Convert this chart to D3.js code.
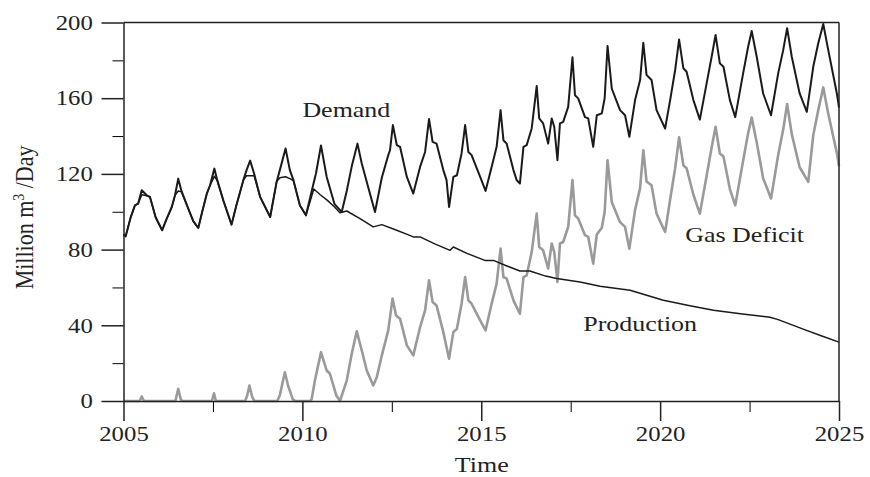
<!DOCTYPE html>
<html>
<head>
<meta charset="utf-8">
<script src="https://cdn.jsdelivr.net/npm/d3@7"></script>
<style>
  body { margin: 0; background: #fff; }
  text { font-family: "Liberation Serif", "Times New Roman", serif; fill: #222; }
</style>
</head>
<body>
<div id="chart"></div>
<script>
// values: [year, million m3/day]
var demand = [
  [2005.00,88],[2005.06,87],[2005.20,97],[2005.32,103.4],[2005.41,104.3],[2005.51,111.4],[2005.65,108.7],[2005.74,107.8],[2005.90,97],[2006.08,90.2],
  [2006.20,96],[2006.35,102.5],[2006.44,108.7],[2006.53,117.5],[2006.62,111],[2006.81,101.7],[2006.95,95],[2007.09,91.4],
  [2007.20,100],[2007.33,109.6],[2007.42,114],[2007.54,122.8],[2007.62,116.7],[2007.79,106],[2008.02,93.2],
  [2008.15,103],[2008.35,116.7],[2008.44,122],[2008.54,127],[2008.65,120.2],[2008.82,107.8],[2009.10,97.2],
  [2009.28,115.8],[2009.37,122],[2009.53,133.4],[2009.65,122],[2009.75,116.7],[2009.93,103.4],[2010.10,98.1],
  [2010.30,114],[2010.38,120.2],[2010.52,135],[2010.68,118.4],[2010.90,104],[2011.10,99.9],
  [2011.24,111],[2011.38,124],[2011.54,136],[2011.66,125.5],[2011.84,113],[2012.03,99.9],
  [2012.22,118],[2012.40,129.9],[2012.45,132.5],[2012.53,145.8],[2012.64,135.2],[2012.73,134.3],[2012.92,118.4],[2013.10,109.6],
  [2013.29,123.7],[2013.43,131.6],[2013.54,149],[2013.64,136.9],[2013.75,136],[2013.94,122],[2014.03,116.7],[2014.10,102.5],
  [2014.22,118.4],[2014.32,119.3],[2014.45,130.8],[2014.55,145.8],[2014.64,131.6],[2014.73,129.9],[2014.97,118.4],[2015.12,111],
  [2015.29,123.7],[2015.43,134.3],[2015.54,153.7],[2015.62,137.8],[2015.71,136],[2015.90,122],[2015.99,116.7],[2016.08,114.9],
  [2016.18,134.3],[2016.27,135.2],[2016.41,144],[2016.55,166.4],[2016.62,149.3],[2016.73,146.7],[2016.87,136],[2016.97,149.3],
  [2017.04,144.9],[2017.13,127.2],[2017.20,146.7],[2017.29,147.5],[2017.43,155.4],[2017.55,181.6],[2017.62,161.6],[2017.71,159.9],
  [2017.90,150],[2017.99,149.3],[2018.13,134.3],
  [2018.23,151],[2018.37,152],[2018.45,160],[2018.53,187.6],[2018.65,165],[2018.88,153.7],[2019.02,151],[2019.14,139.6],
  [2019.30,159],[2019.44,169.6],[2019.53,189.3],[2019.62,172.3],[2019.76,169.6],[2019.90,153.7],[2020.14,144],
  [2020.28,159],[2020.42,174.9],[2020.53,191],[2020.65,175.8],[2020.74,174],[2020.93,159],[2021.11,148.7],
  [2021.30,167.8],[2021.44,181.9],[2021.55,193.4],[2021.67,178.4],[2021.77,176.6],[2021.95,159],[2022.10,150],
  [2022.32,173.1],[2022.46,187.2],[2022.56,195.5],[2022.70,181.9],[2022.88,162.5],[2023.10,151],
  [2023.30,173.1],[2023.44,185.4],[2023.55,197],[2023.68,181.9],[2023.90,162.5],[2024.10,152.8],
  [2024.28,176.6],[2024.42,189],[2024.56,199.2],[2024.70,185.4],[2024.94,162.5],[2025.00,155]
];

var production = [
  [2005.00,88],[2005.06,87],[2005.20,97],[2005.32,103.4],[2005.41,104.3],[2005.51,109],[2005.65,108.5],[2005.74,107.8],[2005.90,97],[2006.08,90.2],
  [2006.20,96],[2006.35,102.5],[2006.44,108.7],[2006.53,111],[2006.62,110.5],[2006.81,101.7],[2006.95,95],[2007.09,91.4],
  [2007.20,100],[2007.33,109.6],[2007.42,114],[2007.54,118.7],[2007.62,116.5],[2007.79,106],[2008.02,93.2],
  [2008.15,103],[2008.35,116.7],[2008.44,119],[2008.54,119],[2008.65,119],[2008.82,107.8],[2009.10,97.2],
  [2009.28,115.8],[2009.37,118],[2009.53,118.5],[2009.65,117.5],[2009.75,116.5],[2009.93,103.4],[2010.10,98.1],
  [2010.32,112],[2010.50,109],[2010.70,106],[2010.90,102.5],[2011.05,99.5],[2011.24,100.4],[2011.60,96.5],[2011.98,92],
  [2012.22,93.2],[2012.60,90.5],[2013.00,87.5],[2013.10,86.7],[2013.29,86.7],[2013.70,83],[2014.13,79.6],[2014.22,81.4],
  [2014.60,78],[2015.10,74.3],[2015.34,74.3],[2015.70,71.5],[2016.08,68.7],[2016.36,68.7],[2016.80,66],[2017.11,64.7],
  [2017.76,62.9],[2018.32,60.6],[2019.16,58.5],[2019.60,56],[2020.09,53.2],[2020.80,50.5],[2021.49,47.9],[2022.30,46],
  [2023.07,44.3],[2023.30,43],[2024.00,38],[2024.50,34.5],[2025.00,31.1]
];

var deficit = [
  [2005.00,0],[2005.45,0],[2005.51,2.4],[2005.57,0],[2006.45,0],[2006.53,6.4],[2006.60,1],[2006.64,0],
  [2007.47,0],[2007.53,4.1],[2007.58,0],[2008.40,0],[2008.46,3],[2008.52,8.2],[2008.60,2],[2008.66,0],
  [2009.30,0],[2009.37,3],[2009.51,15.2],[2009.60,8.2],[2009.73,1],[2009.80,0],
  [2010.22,0],[2010.26,1],[2010.35,10.8],[2010.52,25.8],[2010.68,16.1],[2010.77,14.4],[2010.95,2.9],[2011.05,0],
  [2011.24,10.8],[2011.38,25],[2011.52,36.8],[2011.66,26.7],[2011.80,16.1],[2011.98,8.2],
  [2012.08,12.6],[2012.22,24],[2012.40,37.3],[2012.52,54.1],[2012.62,45.2],[2012.73,43.5],[2012.92,29.4],[2013.10,24.1],
  [2013.29,39],[2013.43,47.9],[2013.54,63.8],[2013.64,52.3],[2013.75,50.5],[2013.94,36.4],[2014.10,22.3],
  [2014.22,36.4],[2014.32,38.2],[2014.45,51.4],[2014.55,65.5],[2014.64,53.2],[2014.73,51.4],[2014.97,42.6],[2015.12,37.3],
  [2015.29,51.4],[2015.43,62],[2015.54,80.5],[2015.62,65.5],[2015.71,64.7],[2015.90,53.2],[2016.08,46.1],
  [2016.18,65.5],[2016.27,66.4],[2016.41,78.7],[2016.55,99],[2016.62,81.4],[2016.73,79.6],[2016.87,70],[2016.97,83.2],
  [2017.04,78.7],[2017.13,62.9],[2017.20,83.2],[2017.29,84],[2017.43,92],[2017.55,116.7],[2017.62,98.1],[2017.71,96.4],
  [2017.90,87.6],[2017.99,86.7],[2018.13,72.6],
  [2018.23,88],[2018.37,91.5],[2018.45,100],[2018.53,127.2],[2018.65,105],[2018.88,94.5],[2019.02,92],[2019.14,80.5],
  [2019.30,101],[2019.44,112.5],[2019.53,132.5],[2019.62,116],[2019.76,114],[2019.90,99],[2020.14,89.3],
  [2020.28,106.5],[2020.42,123],[2020.53,139.3],[2020.65,124.5],[2020.74,123],[2020.93,109],[2021.11,99],
  [2021.30,119],[2021.44,134],[2021.55,144.9],[2021.67,130.8],[2021.77,129.2],[2021.95,112],[2022.10,103.4],
  [2022.32,127],[2022.46,141.5],[2022.56,149.8],[2022.70,136.6],[2022.88,117.7],[2023.10,107],
  [2023.30,130],[2023.44,143.4],[2023.55,156.9],[2023.68,141],[2023.90,123.5],[2024.14,115.8],
  [2024.28,140.4],[2024.42,153.7],[2024.56,165.7],[2024.70,151.8],[2024.94,131],[2025.00,124]
];

var xTicks = [2005, 2010, 2015, 2020, 2025];
var xMinor = [2007.5, 2012.5, 2017.5, 2022.5];
var yTicks = [0, 40, 80, 120, 160, 200];
var yMinor = [20, 60, 100, 140, 180];

var labels = [
  {text: "Demand", x: 2010.0, y: 150},
  {text: "Gas Deficit", x: 2020.7, y: 84},
  {text: "Production", x: 2017.85, y: 37}
];

// set the dimensions and margins of the graph
var margin = {top: 22.5, right: 31, bottom: 76, left: 123.5},
    width = 870 - margin.left - margin.right,
    height = 477 - margin.top - margin.bottom;

var stretch = "scale(1.18,1)";

var x = d3.scaleLinear().domain([2005, 2025]).range([0, width]);
var y = d3.scaleLinear().domain([0, 200]).range([height, 0]);

var svg = d3.select("#chart").append("svg")
    .attr("width", 870)
    .attr("height", 477)
  .append("g")
    .attr("transform", "translate(" + margin.left + "," + margin.top + ")");

var line = d3.line()
    .x(function(d) { return x(d[0]); })
    .y(function(d) { return y(d[1]); });

// series
svg.append("path").datum(deficit)
    .attr("d", line)
    .attr("fill", "none")
    .attr("stroke", "#9a9a9a")
    .attr("stroke-width", 2.6)
    .attr("stroke-linejoin", "round");

svg.append("path").datum(production)
    .attr("d", line)
    .attr("fill", "none")
    .attr("stroke", "#1a1a1a")
    .attr("stroke-width", 1.5)
    .attr("stroke-linejoin", "round");

svg.append("path").datum(demand)
    .attr("d", line)
    .attr("fill", "none")
    .attr("stroke", "#1a1a1a")
    .attr("stroke-width", 2)
    .attr("stroke-linejoin", "round");

// frame top and right
svg.append("line")
    .attr("x1", 0).attr("x2", width).attr("y1", 0).attr("y2", 0)
    .attr("stroke", "#222").attr("stroke-width", 1.5);
svg.append("line")
    .attr("x1", width).attr("x2", width).attr("y1", 0).attr("y2", height)
    .attr("stroke", "#222").attr("stroke-width", 1.5);

// minor ticks
svg.append("g")
    .attr("transform", "translate(0," + height + ")")
    .call(d3.axisBottom(x).tickValues(xMinor).tickSize(11).tickFormat(""))
    .call(function(g) { g.select(".domain").remove(); });
svg.append("g")
    .call(d3.axisLeft(y).tickValues(yMinor).tickSize(11).tickFormat(""))
    .call(function(g) { g.select(".domain").remove(); });

// x axis
var xAxis = svg.append("g")
    .attr("transform", "translate(0," + height + ")")
    .call(d3.axisBottom(x).tickValues(xTicks).tickSize(20).tickPadding(5).tickSizeOuter(0).tickFormat(d3.format("d")));

// y axis
var yAxis = svg.append("g")
    .call(d3.axisLeft(y).tickValues(yTicks).tickSize(22).tickPadding(4).tickSizeOuter(0));

[xAxis, yAxis].forEach(function(g) {
  g.attr("font-family", null).attr("font-size", null);
  g.selectAll("line, path").attr("stroke", "#222").attr("stroke-width", 1.5);
  g.selectAll("text").attr("transform", stretch).style("font-size", "21px").attr("fill", "#222");
});

// series labels
labels.forEach(function(l) {
  svg.append("text")
      .attr("transform", "translate(" + x(l.x) + "," + y(l.y) + ") " + stretch)
      .style("font-size", "22px")
      .text(l.text);
});

// text label for the x axis
svg.append("text")
    .attr("transform", "translate(" + (x(2015) + 0.5) + "," + (height + 71) + ") " + stretch)
    .style("text-anchor", "middle")
    .style("font-size", "22px")
    .text("Time");

// text label for the y axis
var yl = svg.append("text")
    .attr("transform", "translate(" + (33 - margin.left) + "," + (y(97)) + ") rotate(-90) scale(1,1.18)")
    .style("text-anchor", "middle")
    .style("font-size", "22px");
yl.append("tspan").text("Million m");
yl.append("tspan").attr("baseline-shift", "super").style("font-size", "14px").text("3");
yl.append("tspan").text(" /Day");
</script>
</body>
</html>
